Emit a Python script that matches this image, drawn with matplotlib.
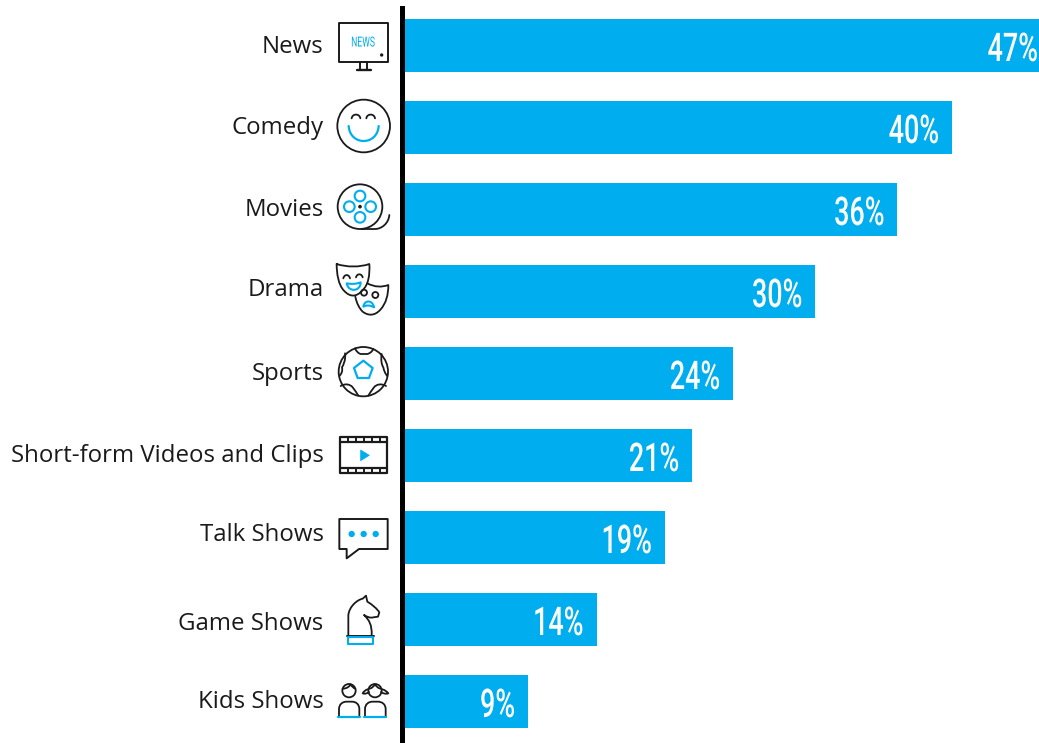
import re
import matplotlib
matplotlib.use("Agg")
import matplotlib.pyplot as plt
from matplotlib.path import Path
from matplotlib.patches import PathPatch, Circle
from matplotlib.patheffects import AbstractPathEffect
from matplotlib.transforms import Affine2D, ScaledTranslation

categories = ["News", "Comedy", "Movies", "Drama", "Sports",
              "Short-form Videos and Clips", "Talk Shows", "Game Shows", "Kids Shows"]
shares = [47, 40, 36, 30, 24, 21, 19, 14, 9]
label_lift_px = [1.5, 2.5, 3.0, 4.5, 2.5, 3.0, 5.5, -1.5, 2.5]

W, H, DPI = 1039, 743, 100
BLUE = "#00AEEF"
INK = "#1A1A1A"
LEFT = 405
PX_PER_POINT = 13.68
ROW = 82
FIRST_ROW = 45.5
BAR_PX = 53


class Squeeze(AbstractPathEffect):
    """Narrows glyphs horizontally about a fixed display x."""

    def __init__(self, x0, factor):
        super().__init__()
        self.x0, self.factor = x0, factor

    def draw_path(self, renderer, gc, tpath, affine, rgbFace=None):
        squeezed = affine + Affine2D().translate(-self.x0, 0).scale(self.factor, 1).translate(self.x0, 0)
        renderer.draw_path(gc, tpath, squeezed, rgbFace)


fig = plt.figure(figsize=(W / DPI, H / DPI), dpi=DPI, facecolor="white")
ax = fig.add_axes([LEFT / W, 0, (W - LEFT) / W, 1])
ax.set_xlim(0, (W - LEFT) / PX_PER_POINT)
ax.set_ylim((H - FIRST_ROW) / ROW, -FIRST_ROW / ROW)

rows = list(range(len(categories)))
ax.barh(rows, shares, height=BAR_PX / ROW, color=BLUE, linewidth=0)

for side in ("top", "right", "bottom"):
    ax.spines[side].set_visible(False)
spine = ax.spines["left"]
spine.set_linewidth(5 * 72 / DPI)
spine.set_color("black")
spine.set_position(("outward", 3 * 72 / DPI))
spine.set_bounds((8 - FIRST_ROW) / ROW, (H - FIRST_ROW) / ROW)

ax.set_xticks([])
ax.set_yticks(rows, categories)
ax.tick_params(axis="y", length=0, pad=(LEFT - 323.5 - 3) * 72 / DPI)
for lab, lift in zip(ax.get_yticklabels(), label_lift_px):
    lab.set_fontfamily("Open Sans")
    lab.set_fontsize(17.25)
    lab.set_color("#1A1A1A")
    lab.set_transform(lab.get_transform() + ScaledTranslation(0, lift / DPI, fig.dpi_scale_trans))

# value labels sit inside the bar end; a bar running off the plot keeps its label at the edge
for row, value in zip(rows, shares):
    end_px = LEFT + value * PX_PER_POINT
    right_px = W - 1 if end_px > W else end_px - 13
    base_px = FIRST_ROW + ROW * row + 15.5
    t = ax.text(right_px - LEFT, H - base_px, f"{value}%",
                transform=Affine2D().translate(LEFT, 0), color="white",
                family="Roboto", weight="medium", fontsize=28.5, ha="right", va="baseline")
    t.set_path_effects([Squeeze(right_px, 0.68)])

# pictograms beside the category names, drawn in pixel space
ov = fig.add_axes([0, 0, 1, 1], facecolor="none")
ov.set_xlim(0, W)
ov.set_ylim(H, 0)
ov.axis("off")
LW = 1.3


def to_px(x, y, top):
    return 330 + x / 3, top + y / 3


def stroke(d, top, color=INK, lw=LW, fill="none"):
    tokens = re.findall(r"[MLCQZ]|-?[\d.]+", d)
    verts, codes, i = [], [], 0
    kinds = {"M": (1, Path.MOVETO), "L": (1, Path.LINETO), "Q": (2, Path.CURVE3), "C": (3, Path.CURVE4)}
    while i < len(tokens):
        cmd = tokens[i]
        i += 1
        if cmd == "Z":
            verts.append(verts[-1])
            codes.append(Path.CLOSEPOLY)
            continue
        n, code = kinds[cmd]
        for _ in range(n):
            verts.append(to_px(float(tokens[i]), float(tokens[i + 1]), top))
            codes.append(code)
            i += 2
    ov.add_patch(PathPatch(Path(verts, codes), fc=fill, ec=color, lw=lw, capstyle="round", joinstyle="round"))


def ring(x, y, r, top, color=INK, lw=LW, fill="none"):
    cx, cy = to_px(x, y, top)
    ov.add_patch(Circle((cx, cy), r / 3, fc=fill, ec=color, lw=lw))


# news screen
stroke("M27 70 L175 70 L175 185 L27 185 Z", 0, lw=1.4)
stroke("M90 185 L90 208 M112 185 L112 208", 0, lw=1.4)
stroke("M82 210 L122 210", 0, lw=1.7)
ring(155, 165, 5, 0, fill=INK, lw=0)
news = ov.text(363, 46.5, "NEWS", color=BLUE, family="Roboto", fontsize=10, ha="center", va="baseline")
news.set_path_effects([Squeeze(ov.transData.transform((363, 0))[0], 0.62)])

# smiling face
ring(101, 378, 79, 0)
stroke("M65 355 C67 340 89 340 91 355 M109 355 C111 340 133 340 135 355", 0)
stroke("M56 378 C60 438 142 438 146 378", 0, color=BLUE, lw=1.6)

# film reel
ring(90, 620, 67, 0)
for dx, dy in [(0, -32), (0, 32), (-32, 0), (32, 0)]:
    ring(90 + dx, 620 + dy, 16, 0, color=BLUE, lw=1.5)
ring(90, 620, 5.5, 0, fill=INK, lw=0)
stroke("M95 687 L135 687 C155 687 176 670 178 645", 0)

# theatre masks
stroke("M20 42 C50 52 90 52 118 42 C120 75 115 105 98 120 C80 142 60 142 42 122 C25 105 20 70 20 42", 250)
stroke("M40 85 C43 72 57 72 60 85 M78 82 C81 70 95 70 98 82", 250)
stroke("M50 100 C65 103 80 102 92 97 C92 125 55 128 50 100 Z", 250, color=BLUE, lw=1.5)
stroke("M112 100 C135 112 155 112 175 105 C175 135 168 160 152 178 C135 198 115 198 98 185 C88 175 80 160 76 140", 250)
ring(102, 128, 9, 250)
ring(136, 135, 9, 250)
stroke("M100 170 C104 148 128 150 132 172 C120 165 110 165 100 170 Z", 250, color=BLUE, lw=1.5)

# football
ring(100, 365, 74, 250)
stroke("M75 295 C80 305 85 310 92 312 L112 312 C120 310 126 305 130 297", 250)
stroke("M45 310 C48 330 40 345 36 352 C38 362 36 370 28 378", 250)
stroke("M155 312 C152 330 155 345 160 352 C162 362 165 370 172 378", 250)
stroke("M32 408 C45 400 60 402 68 412 C75 420 80 430 85 437", 250)
stroke("M168 408 C155 400 140 402 132 412 C125 420 120 430 115 437", 250)
stroke("M100 332 L128 354 L117 384 L83 384 L72 354 Z", 250, color=BLUE, lw=1.6)

# film strip
stroke("M30 560 L172 560 L172 670 L30 670 Z", 250, lw=1.6)
stroke("M30 575 L172 575 M30 655 L172 655", 250, lw=1.6)
for k in range(1, 6):
    xk = 30 + k * 23.7
    stroke(f"M{xk} 560 L{xk} 575 M{xk} 655 L{xk} 670", 250, lw=1.4)
stroke("M92 600 L118 616 L92 632 Z", 250, color=BLUE, lw=0.5, fill=BLUE)

# speech bubble
stroke("M28 57 L173 57 L173 147 L87 147 L50 175 L50 147 L28 147 Z", 500, lw=1.4)
for xk in (65, 101, 137):
    ring(xk, 102, 9.5, 500, fill=BLUE, color=BLUE, lw=0)

# chess knight
stroke("M55 405 L55 345 C58 320 80 300 98 296 L108 287 L112 305 C128 315 140 325 148 337 "
       "L144 350 L130 352 C120 355 110 350 102 345 C118 360 126 375 125 405", 500)
stroke("M50 408 L132 408", 500, lw=1.4)
stroke("M55 411 L128 411 L128 433 L55 433 Z", 500, color=BLUE, lw=1.5)

# two children
ring(57, 572, 20, 500)
stroke("M38 566 C50 566 58 560 62 553 C66 560 70 564 76 566", 500)
stroke("M27 650 L27 628 C27 612 38 605 50 605 L65 605 C78 605 88 612 88 628 L88 650", 500)
stroke("M25 651 L90 651", 500, color=BLUE, lw=1.6)
ring(135, 572, 20, 500)
stroke("M116 566 C125 566 130 560 135 553 C140 560 145 566 154 566", 500)
stroke("M115 568 C108 568 102 574 98 580 C105 583 112 580 117 576", 500)
stroke("M155 568 C162 568 170 574 175 580 C168 583 158 580 153 576", 500)
stroke("M105 650 L105 628 C105 612 116 605 128 605 L143 605 C156 605 167 612 167 628 L167 650", 500)
stroke("M103 651 L168 651", 500, color=BLUE, lw=1.6)

fig.savefig("out.png", dpi=DPI, facecolor="white")
